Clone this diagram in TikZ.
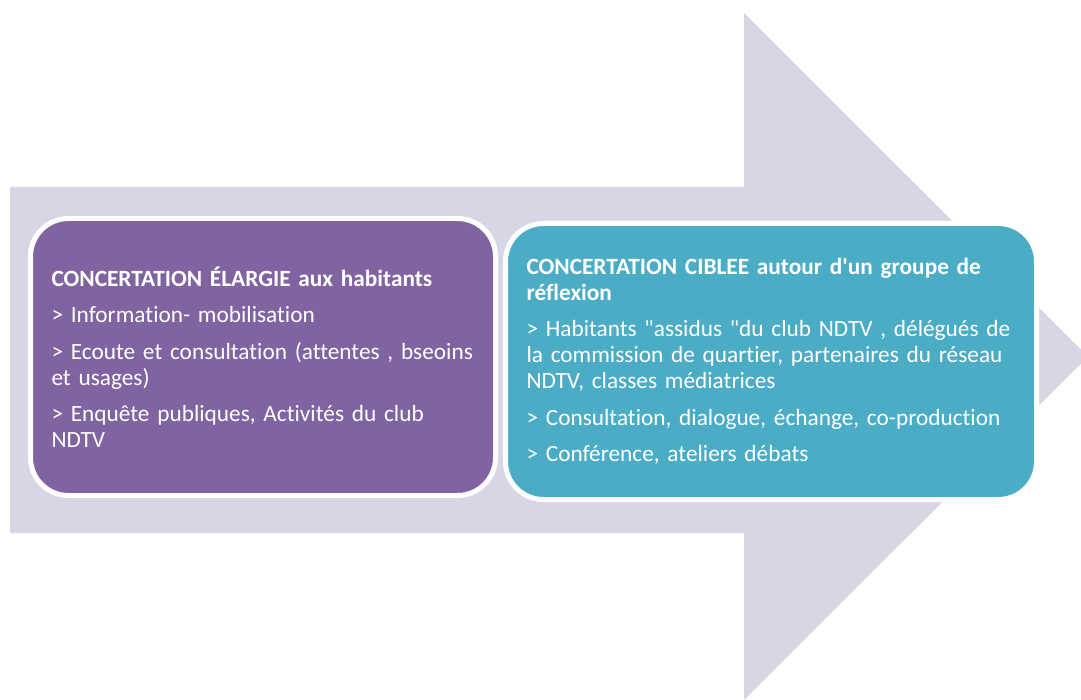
\documentclass[tikz,border=0pt]{standalone}
\usepackage{fontspec}
\setmainfont{Carlito}[Ligatures={NoCommon}]
\definecolor{arrowfill}{RGB}{216,213,228}
\definecolor{purplebox}{RGB}{128,100,162}
\definecolor{tealbox}{RGB}{75,172,198}
\begin{document}
\begin{tikzpicture}[x=1pt,y=-1pt,
  card/.style={draw=white, line width=5pt, rounded corners=38pt, text=white,
    align=left, inner xsep=21pt, inner ysep=0pt,
    font=\fontsize{23.3}{26}\selectfont}
]
\useasboundingbox (0,0) rectangle (1081,700);
\clip (0,0) rectangle (1081,700);
\fill[arrowfill] (10,187) -- (744,187) -- (744,13) -- (1088,356.5) -- (744,700) -- (744,533) -- (10,533) -- cycle;
\node[card, fill=purplebox, minimum width=465pt, minimum height=277pt, text width=423pt] (left) at (263,357)
{\textbf{CONCERTATION ÉLARGIE aux habitants}\\[10.5pt]
> Information- mobilisation\\[10.5pt]
> Ecoute et consultation (attentes , bseoins\\
et usages)\\[10.5pt]
> Enquête publiques, Activités du club\\
NDTV};
\node[card, fill=tealbox, minimum width=531pt, minimum height=276pt, text width=489pt] (right) at (771,361.5)
{\textbf{CONCERTATION CIBLEE autour d\textquotesingle un groupe de}\\
\textbf{réflexion}\\[10.5pt]
> Habitants \textquotedbl assidus \textquotedbl du club NDTV , délégués de\\
la commission de quartier, partenaires du réseau\\
NDTV, classes médiatrices\\[10.5pt]
> Consultation, dialogue, échange, co-production\\[10.5pt]
> Conférence, ateliers débats};
\end{tikzpicture}
\end{document}
